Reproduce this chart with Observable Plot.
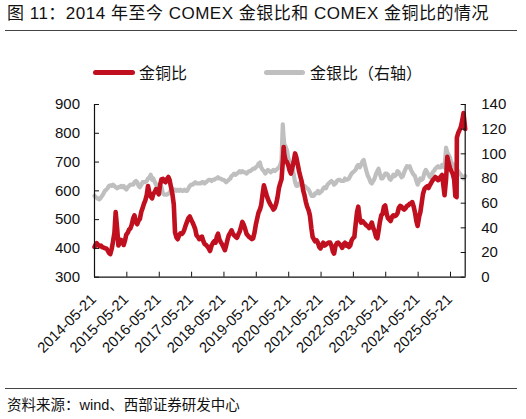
<!DOCTYPE html>
<html><head><meta charset="utf-8">
<script src="https://cdn.jsdelivr.net/npm/d3@7"></script>
<script src="https://cdn.jsdelivr.net/npm/@observablehq/plot@0.6"></script>
<style>
body{margin:0;width:526px;height:419px;position:relative;background:#fff;overflow:hidden;font-family:"Liberation Sans",Arial,"Noto Sans CJK SC",sans-serif;color:#000}
.title{position:absolute;left:7px;top:4px;font-size:17px;letter-spacing:0.5px;line-height:20px;white-space:nowrap;font-family:"Liberation Sans",Arial,"Noto Sans CJK SC",sans-serif;color:#111}
.hr{position:absolute;left:5px;width:512px;height:1px;background:#444}
.sw{position:absolute;height:5px;border-radius:2.5px}
.lg{position:absolute;font-size:16px;line-height:20px;white-space:nowrap;font-family:"Noto Sans CJK SC",sans-serif;color:#111}
.src{position:absolute;left:7px;top:396px;font-size:14.5px;line-height:18px;white-space:nowrap;font-family:"Liberation Sans",Arial,"Noto Sans CJK SC",sans-serif;color:#111}
#chart{position:absolute;left:0;top:90px}
</style></head>
<body>
<div class="title">图 11：2014 年至今 COMEX 金银比和 COMEX 金铜比的情况</div>
<div class="hr" style="top:30px"></div>
<div class="sw" style="left:93px;top:69.5px;width:42px;background:#C00F1E"></div>
<div class="lg" style="left:139px;top:62px">金铜比</div>
<div class="sw" style="left:264px;top:69.5px;width:41px;background:#BFBFBF"></div>
<div class="lg" style="left:310px;top:62px">金银比（右轴）</div>
<div id="chart"></div>
<div class="hr" style="top:388px"></div>
<div class="src">资料来源：wind、西部证券研发中心</div>
<script>
const xStart = "2014-05-21";
const xEnd = "2025-11-03";
const xTickLabels = ["2014-05-21","2015-05-21","2016-05-21","2017-05-21","2018-05-21","2019-05-21","2020-05-21","2021-05-21","2022-05-21","2023-05-21","2024-05-21","2025-05-21"];
const leftTicks = [300,400,500,600,700,800,900];
const rightTicks = [0,20,40,60,80,100,120,140];

// semi-monthly observation dates
const dates = ["2014-05-21",
"2014-06-01","2014-06-15","2014-07-01","2014-07-15","2014-08-01","2014-08-15","2014-09-01","2014-09-15","2014-10-01","2014-10-15","2014-11-01","2014-11-15","2014-12-01","2014-12-15",
"2015-01-01","2015-01-15","2015-02-01","2015-02-15","2015-03-01","2015-03-15","2015-04-01","2015-04-15","2015-05-01","2015-05-15","2015-06-01","2015-06-15","2015-07-01","2015-07-15","2015-08-01","2015-08-15","2015-09-01","2015-09-15","2015-10-01","2015-10-15","2015-11-01","2015-11-15","2015-12-01","2015-12-15",
"2016-01-01","2016-01-15","2016-02-01","2016-02-15","2016-03-01","2016-03-15","2016-04-01","2016-04-15","2016-05-01","2016-05-15","2016-06-01","2016-06-15","2016-07-01","2016-07-15","2016-08-01","2016-08-15","2016-09-01","2016-09-15","2016-10-01","2016-10-15","2016-11-01","2016-11-15","2016-12-01","2016-12-15",
"2017-01-01","2017-01-15","2017-02-01","2017-02-15","2017-03-01","2017-03-15","2017-04-01","2017-04-15","2017-05-01","2017-05-15","2017-06-01","2017-06-15","2017-07-01","2017-07-15","2017-08-01","2017-08-15","2017-09-01","2017-09-15","2017-10-01","2017-10-15","2017-11-01","2017-11-15","2017-12-01","2017-12-15",
"2018-01-01","2018-01-15","2018-02-01","2018-02-15","2018-03-01","2018-03-15","2018-04-01","2018-04-15","2018-05-01","2018-05-15","2018-06-01","2018-06-15","2018-07-01","2018-07-15","2018-08-01","2018-08-15","2018-09-01","2018-09-15","2018-10-01","2018-10-15","2018-11-01","2018-11-15","2018-12-01","2018-12-15",
"2019-01-01","2019-01-15","2019-02-01","2019-02-15","2019-03-01","2019-03-15","2019-04-01","2019-04-15","2019-05-01","2019-05-15","2019-06-01","2019-06-15","2019-07-01","2019-07-15","2019-08-01","2019-08-15","2019-09-01","2019-09-15","2019-10-01","2019-10-15","2019-11-01","2019-11-15","2019-12-01","2019-12-15",
"2020-01-01","2020-01-15","2020-02-01","2020-02-15","2020-03-01","2020-03-15","2020-03-25","2020-04-01","2020-04-15","2020-05-01","2020-05-15","2020-06-01","2020-06-15","2020-07-01","2020-07-15","2020-08-01","2020-08-15","2020-09-01","2020-09-15","2020-10-01","2020-10-15","2020-11-01","2020-11-15","2020-12-01","2020-12-15",
"2021-01-01","2021-01-15","2021-02-01","2021-02-15","2021-03-01","2021-03-15","2021-04-01","2021-04-15","2021-05-01","2021-05-15","2021-06-01","2021-06-15","2021-07-01","2021-07-15","2021-08-01","2021-08-15","2021-09-01","2021-09-15","2021-10-01","2021-10-15","2021-11-01","2021-11-15","2021-12-01","2021-12-15",
"2022-01-01","2022-01-15","2022-02-01","2022-02-15","2022-03-01","2022-03-15","2022-04-01","2022-04-15","2022-05-01","2022-05-15","2022-06-01","2022-06-15","2022-07-01","2022-07-15","2022-08-01","2022-08-15","2022-09-01","2022-09-15","2022-10-01","2022-10-15","2022-11-01","2022-11-15","2022-12-01","2022-12-15",
"2023-01-01","2023-01-15","2023-02-01","2023-02-15","2023-03-01","2023-03-15","2023-04-01","2023-04-15","2023-05-01","2023-05-15","2023-06-01","2023-06-15","2023-07-01","2023-07-15","2023-08-01","2023-08-15","2023-09-01","2023-09-15","2023-10-01","2023-10-15","2023-11-01","2023-11-15","2023-12-01","2023-12-15",
"2024-01-01","2024-01-15","2024-02-01","2024-02-15","2024-03-01","2024-03-15","2024-04-01","2024-04-15","2024-05-01","2024-05-15","2024-06-01","2024-06-15","2024-07-01","2024-07-15","2024-08-01","2024-08-15","2024-09-01","2024-09-15","2024-10-01","2024-10-15","2024-11-01","2024-11-15","2024-12-01","2024-12-15",
"2025-01-01","2025-01-15","2025-02-01","2025-02-15","2025-03-01","2025-03-15","2025-04-01","2025-04-15","2025-05-01","2025-05-15","2025-06-01","2025-06-15","2025-07-01","2025-07-15","2025-07-29","2025-08-01","2025-08-15","2025-09-01","2025-09-15","2025-10-01","2025-10-15","2025-11-03"];

// COMEX gold / copper ratio (left axis)
const goldCopper = [405,
412,418,412,408,410,405,403,401,400,394,384,380,398,422,
455,526,468,410,420,430,424,412,428,448,455,465,470,482,505,515,490,484,497,502,528,540,556,566,
586,617,592,580,574,590,596,606,598,588,622,640,642,634,630,641,648,637,612,592,552,456,438,432,
446,452,450,456,466,480,494,505,511,500,490,480,467,446,440,432,436,441,425,415,412,407,400,391,
410,418,425,420,440,451,430,422,414,405,394,410,431,446,455,463,450,445,440,437,450,459,476,492,
481,468,450,445,440,437,432,435,455,481,505,524,535,550,590,619,600,585,570,560,550,544,535,540,
556,576,610,626,640,700,752,725,706,700,690,670,660,681,700,730,716,690,668,648,632,601,585,561,545,
532,515,470,440,432,425,428,420,405,400,412,420,410,413,418,420,420,410,390,382,410,418,420,415,
410,402,415,420,410,415,405,410,428,435,440,482,526,545,502,490,495,490,485,480,476,471,480,490,
470,460,440,435,460,490,515,520,545,549,520,505,500,495,510,515,512,515,522,540,548,545,538,535,
540,548,550,555,556,561,545,525,495,478,510,526,560,590,607,612,616,610,620,628,637,641,648,645,
637,641,650,655,620,585,640,718,695,680,668,660,640,582,578,785,800,812,822,845,870,815];

// COMEX gold / silver ratio (right axis)
const goldSilver = [66,
65,64.5,63.5,63,64.5,66,68,70,71,72,74,74.5,74,75,
74,73,72,73,73,74,73,74,72,71,73,74,75,75,75,77,78,77,74,73,75,77,77,77,
78,80,81,83,79,80,77,75,73,75,74,73,68,67,67,67,68,68,71,72,71,71,70,71,
70,71,70,70,71,70,70,72,74,75,75,76,77,76,76,76,76,77,77,76,77,78,79,79,
78,79,79,80,80,81,80,80,79,79,78,77,78,79,80,82,83,84,83,84,85,86,85,86,
85,85,84,85,86,86,87,88,88,89,90,92,93,89,87,86,84,86,87,86,85,86,87,86,
87,88,89,91,95,124,113,108,106,103,97,93,91,89,84,77,74,74,76,76,75,74,74,73,72,
71,69,66,66,66,68,68,70,68,69,70,72,73,72,75,76,77,78,77,75,76,78,79,79,
78,78,78,80,79,79,80,82,84,85,86,87,90,91,89,91,94,95,90,86,82,80,77,76,
78,80,84,86,88,84,80,80,82,84,84,83,80,79,81,83,82,83,86,85,83,81,82,85,
88,90,89,90,87,85,83,82,78,75,78,80,79,80,85,87,85,83,81,82,85,86,88,89,
90,89,89,91,90,89,105,101,99,97,92,92,90,88,87,88,86,84,83,81,80,82];

const parse = d3.utcParse("%Y-%m-%d");
const rows = dates.map((d, i) => ({date: parse(d), gc: goldCopper[i], gs: goldSilver[i]}));
const L0 = leftTicks[0], L1 = leftTicks[leftTicks.length - 1];
const R0 = rightTicks[0], R1 = rightTicks[rightTicks.length - 1];
const toLeft = v => L0 + (v - R0) * (L1 - L0) / (R1 - R0);
const fromLeft = v => Math.round(R0 + (v - L0) * (R1 - R0) / (L1 - L0));
const tickDates = xTickLabels.map(parse);
const RED = "#C00F1E", GRAY = "#BFBFBF", AXIS = "#111";

const chart = Plot.plot({
  width: 526, height: 275,
  marginTop: 14, marginBottom: 88.3, marginLeft: 94, marginRight: 61.3,
  x: {type: "utc", domain: [parse(xStart), parse(xEnd)], label: null},
  y: {domain: [L0, L1], label: null},
  style: {fontFamily: "'Liberation Sans', Arial, sans-serif", fontSize: "15px", color: "#111", background: "transparent", overflow: "visible"},
  marks: [
    Plot.lineY(rows, {x: "date", y: d => toLeft(d.gs), stroke: GRAY, strokeWidth: 4.2, strokeLinejoin: "round", strokeLinecap: "round"}),
    Plot.lineY(rows, {x: "date", y: "gc", stroke: RED, strokeWidth: 4.6, strokeLinejoin: "round", strokeLinecap: "round"}),
    Plot.ruleX([parse(xStart), parse(xEnd)], {stroke: AXIS, strokeWidth: 1.2}),
    Plot.ruleY([L0], {stroke: AXIS, strokeWidth: 1.2}),
    Plot.axisY({anchor: "left", ticks: leftTicks, tickSize: 0, tickPadding: 14.5, label: null, tickFormat: d => String(d), fontSize: 15}),
    Plot.axisY({anchor: "left", ticks: leftTicks, tickSize: -5, tickFormat: () => "", label: null, stroke: AXIS}),
    Plot.axisY({anchor: "right", ticks: rightTicks.map(toLeft), tickSize: 0, tickPadding: 16, label: null, tickFormat: d => String(fromLeft(d)), fontSize: 15}),
    Plot.axisY({anchor: "right", ticks: rightTicks.map(toLeft), tickSize: -5, tickFormat: () => "", label: null, stroke: AXIS}),
    Plot.axisX({ticks: tickDates, tickSize: -5, tickFormat: () => "", label: null, stroke: AXIS}),
    Plot.text(tickDates, {x: d => d, frameAnchor: "bottom", text: (d, i) => xTickLabels[i], rotate: -45, textAnchor: "end", lineAnchor: "bottom", dx: 2.5, dy: 23, fontSize: 14.8, fill: "#111"})
  ]
});
document.getElementById("chart").appendChild(chart);
</script>
</body></html>
